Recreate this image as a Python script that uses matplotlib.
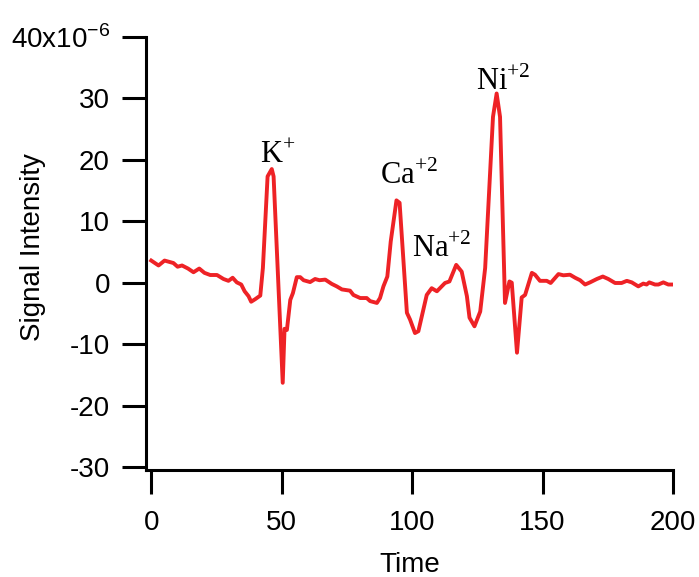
import matplotlib
matplotlib.use('Agg')
import matplotlib.pyplot as plt

# signal trace (intensity in units of 1e-6)
time = [0, 2.8, 5.1, 8.5, 10.1, 11.8, 14.1, 16.2, 18.4, 20.4, 22.6, 25.2, 27.7, 29.6,
        31.2, 32.8, 34.5, 35.8, 37.3, 38.3, 39.8, 41.8, 42.8, 44.6, 46.2, 46.9, 50.4,
        51.1, 52.0, 53.3, 54.3, 55.8, 57.1, 58.4, 60.9, 62.8, 64.5, 66.7, 69.2, 71.1,
        73.1, 76.2, 77.5, 80.1, 82.6, 83.9, 86.5, 87.7, 89.0, 90.5, 91.8, 94.0, 95.2,
        98.0, 99.2, 101.1, 102.4, 105.6, 107.5, 109.5, 112.6, 114.3, 116.9, 119.0,
        121.0, 122.0, 123.9, 126.1, 128.0, 131.0, 132.4, 133.7, 135.6, 137.3, 138.2,
        140.2, 142.0, 143.3, 145.9, 147.1, 149.0, 151.6, 153.1, 156.1, 158.0, 160.5,
        162.5, 164.4, 166.3, 168.2, 170.8, 173.1, 175.2, 177.8, 180.3, 182.3, 184.2,
        186.7, 188.6, 189.9, 190.9, 193.1, 194.4, 196.3, 198.2, 200.0]
signal = [3.6, 2.8, 3.6, 3.2, 2.6, 2.8, 2.3, 1.7, 2.3, 1.6, 1.25, 1.25, 0.6, 0.3,
          0.8, 0.05, -0.3, -1.4, -2.2, -3.1, -2.7, -2.1, 2.4, 17.3, 18.5, 17.3, -16.3,
          -7.5, -7.7, -2.8, -1.7, 0.9, 0.9, 0.4, 0.1, 0.6, 0.4, 0.5, -0.2, -0.6,
          -1.1, -1.3, -2.0, -2.5, -2.5, -3.0, -3.3, -2.5, -0.6, 1.0, 6.7, 13.4, 13.0,
          -4.9, -6.0, -8.2, -7.9, -2.0, -0.9, -1.4, -0.05, 0.2, 2.9, 1.8,
          -2.2, -5.7, -7.1, -4.7, 2.4, 27.0, 30.8, 27.0, -3.3, 0.2, 0.0,
          -11.4, -2.4, -2.0, 1.6, 1.3, 0.3, 0.3, -0.05, 1.4, 1.2, 1.3,
          0.8, 0.4, -0.3, 0.05, 0.6, 1.0, 0.6, -0.05, -0.05, 0.3, 0.05,
          -0.6, -0.15, -0.3, 0.05, -0.3, -0.3, 0.05, -0.3, -0.3]

# peak labels and where they sit (left edge, baseline)
peak_labels = [r'K$^{\mathrm{+}}$', r'Ca$^{\mathrm{+2}}$', r'Na$^{\mathrm{+2}}$', r'Ni$^{\mathrm{+2}}$']
peak_x = [41.8, 87.7, 100.0, 124.5]
peak_y = [19.5, 16.0, 4.1, 31.4]

x_ticks = [0, 50, 100, 150, 200]
y_ticks = [-30, -20, -10, 0, 10, 20, 30, 40]
y_ticklabels = ['-30', '-20', '-10', '0', '10', '20', '30', r'40x10$^{\mathsf{-6}}$']

plt.rcParams['font.family'] = 'Liberation Sans'
plt.rcParams['mathtext.fontset'] = 'custom'
plt.rcParams['mathtext.rm'] = 'Liberation Serif'
plt.rcParams['mathtext.sf'] = 'Liberation Sans'

fig = plt.figure(figsize=(6.99, 5.77), dpi=100)
ax = fig.add_axes([0.2089, 0.1854, 0.7539, 0.7505])

ax.plot(time, signal, color='#ee2226', lw=2.8, solid_joinstyle='round')

for lab, x, y in zip(peak_labels, peak_x, peak_y):
    ax.text(x, y, lab, family='Liberation Serif', fontsize=22, ha='left', va='baseline')

ax.set_xlim(-2, 200)
ax.set_ylim(-30.5, 40)
ax.set_xticks(x_ticks)
ax.set_xticklabels([str(t) for t in x_ticks])
ax.set_yticks(y_ticks)
ax.set_yticklabels(y_ticklabels)

for s in ['top', 'right']:
    ax.spines[s].set_visible(False)
for s in ['left', 'bottom']:
    ax.spines[s].set_linewidth(2.2)

ax.tick_params(axis='both', direction='out', length=17, width=2.2, labelsize=20)
ax.tick_params(axis='y', pad=9)
ax.tick_params(axis='x', pad=12)

ax.set_xlabel('Time', fontsize=20, labelpad=11)
ax.set_ylabel('Signal Intensity', fontsize=20)
ax.yaxis.set_label_coords(-0.19, 0.515)

fig.savefig('out.png', dpi=100)
